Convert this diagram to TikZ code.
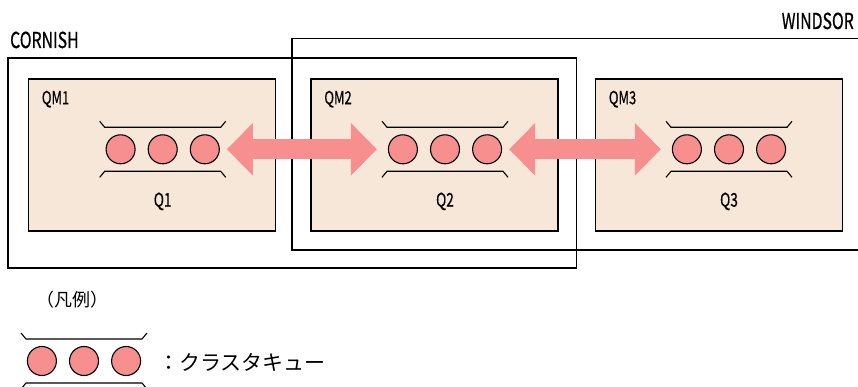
\documentclass[tikz,border=0pt]{standalone}
\usepackage{fontspec}
\setmainfont{Noto Sans CJK JP}
\newfontfamily\labfont{Noto Sans CJK JP}[FakeBold=0.7]
\usetikzlibrary{arrows.meta,positioning}
\definecolor{qmfill}{RGB}{246,231,216}
\definecolor{qpink}{RGB}{248,143,143}
\tikzset{
  site/.style={draw=black,line width=1.3pt},
  qmbox/.style={draw=black,fill=qmfill,line width=1.6pt,minimum width=247pt,minimum height=152pt,inner sep=0pt},
  msg/.style={circle,draw=black,fill=qpink,line width=1.1pt,minimum size=29pt,inner sep=0pt},
  rail/.style={line width=1.1pt},
  link/.style={qpink,line width=20pt,
    {Triangle[width=51pt,length=26pt]}-{Triangle[width=51pt,length=26pt]},
    shorten <=7pt,shorten >=11pt},
  lbl/.style={inner sep=0pt},
}
\newcommand{\cond}[1]{\scalebox{0.72}[1]{\labfont #1}}
% queue: name, x, y
\newcommand{\queue}[3]{%
  \begin{scope}[shift={(#2,#3)}]
    \node[msg] (#1b) at (0,0) {};
    \node[msg,left=12pt of #1b] (#1a) {};
    \node[msg,right=12pt of #1b] (#1c) {};
    \draw[rail] (-63,-28) -- (-58,-22) -- (58,-22) -- (63,-28);
    \draw[rail] (-63,28) -- (-58,22) -- (58,22) -- (63,28);
  \end{scope}}

\begin{document}
\begin{tikzpicture}[x=1pt,y=-1pt]
  \useasboundingbox (0,0) rectangle (858,387);
  % sites
  \draw[site] (8,58) rectangle (576.7,268);
  \draw[site] (858,38.7) -- (292,38.7) -- (292,250) -- (858,250);
  \node[lbl,anchor=base west,font=\fontsize{22}{22}\selectfont] (cornish) at (10,48) {\cond{CORNISH}};
  \node[lbl,anchor=base east,font=\fontsize{22}{22}\selectfont] (windsor) at (854,29) {\cond{WINDSOR}};
  % queue managers
  \node[qmbox] (qm1) at (152,155) {};
  \node[qmbox] (qm2) at (434.5,155) {};
  \node[qmbox] (qm3) at (719,155) {};
  \foreach \m in {1,2,3}
    \node[lbl,anchor=base west,font=\fontsize{18}{18}\selectfont] (qm\m lbl)
      at ([shift={(14,26)}]qm\m.north west) {\cond{QM\m}};
  % queues
  \queue{q1}{162.7}{149.3}
  \queue{q2}{445}{149.3}
  \queue{q3}{729}{149.3}
  \foreach \m in {1,2,3}
    \node[lbl,anchor=base,font=\fontsize{19}{19}\selectfont] (q\m lbl)
      at ([yshift=-57.4pt]q\m b) {\cond{Q\m}};
  % channels
  \draw[link] (q1c.east) -- (q2a.west);
  \draw[link] (q2c.east) -- (q3a.west);
  % legend
  \node[lbl,anchor=base west,font=\fontsize{18}{18}\selectfont] (legend) at (36,306) {（凡例）};
  \queue{lq}{84}{361}
  \node[lbl,anchor=west,font=\fontsize{21}{21}\selectfont] (lqtext) at (158,362) {：クラスタキュー};
\end{tikzpicture}
\end{document}
